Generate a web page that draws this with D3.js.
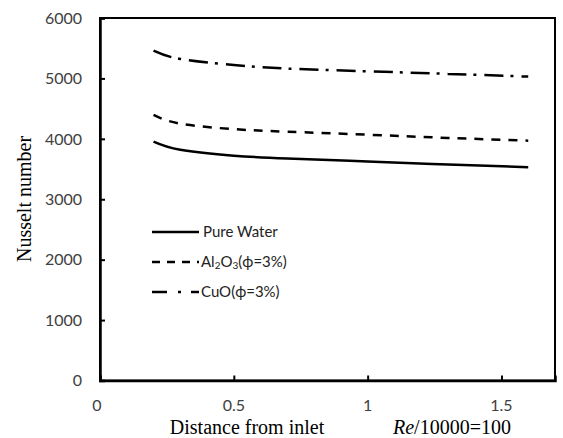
<!DOCTYPE html>
<html>
<head>
<meta charset="utf-8">
<script src="https://cdn.jsdelivr.net/npm/d3@7"></script>
<style>
  body { margin: 0; background: #fff; }
  svg { display: block; }
</style>
</head>
<body>
<div id="chart"></div>
<script>
// distance from inlet and Nusselt number
const distance = [0.2, 0.3, 0.5, 0.7, 1.0, 1.3, 1.6];
const pureWater = [3955, 3820, 3722, 3675, 3625, 3575, 3530];
const al2o3 = [4395, 4252, 4160, 4118, 4068, 4015, 3970];
const cuo = [5460, 5322, 5222, 5162, 5118, 5075, 5030];
const yTicks = [0, 1000, 2000, 3000, 4000, 5000, 6000];
const xTicks = [0, 0.5, 1, 1.5];

const width = 563;
const height = 438;

const svg = d3.select("#chart")
  .append("svg")
  .attr("width", width)
  .attr("height", height);

const x = d3.scaleLinear().domain([0, 1.7]).range([100, 555]);
const y = d3.scaleLinear().domain([0, 6000]).range([380.5, 18]);

const series = [
  { name: "Pure Water", values: pureWater, dash: null, legendDash: null },
  { name: "Al2O3", values: al2o3, dash: "9,8", legendDash: "8,7" },
  { name: "CuO", values: cuo, dash: "19,7,3,8", legendDash: "15,11,3,10" }
];

const line = d3.line()
  .x(d => x(d[0]))
  .y(d => y(d[1]))
  .curve(d3.curveNatural);

// plot frame
svg.append("rect")
  .attr("x", x(0))
  .attr("y", y(6000))
  .attr("width", x(1.7) - x(0))
  .attr("height", y(0) - y(6000))
  .attr("fill", "none")
  .attr("stroke", "#000")
  .attr("stroke-width", 2);

// y axis
const yAxis = svg.append("g")
  .attr("transform", `translate(${x(0)},0)`)
  .call(d3.axisRight(y).tickValues(yTicks).tickSize(5).tickFormat(""));
yAxis.select(".domain").attr("stroke-width", 2.5);
yAxis.selectAll(".tick line").attr("stroke-width", 2);

svg.append("g").selectAll("text")
  .data(yTicks)
  .enter()
  .append("text")
  .attr("x", 82)
  .attr("y", d => y(d))
  .attr("dy", "0.36em")
  .attr("text-anchor", "end")
  .style("font-family", "Lato, 'Open Sans', sans-serif")
  .style("font-size", "16px")
  .style("fill", "#404040")
  .text(d => d);

// x axis
const xAxis = svg.append("g")
  .attr("transform", `translate(0,${y(0)})`)
  .call(d3.axisTop(x).tickValues(xTicks).tickSize(5).tickFormat(""));
xAxis.select(".domain").attr("stroke-width", 2.5);
xAxis.selectAll(".tick line").attr("stroke-width", 2);

svg.append("g").selectAll("text")
  .data(xTicks)
  .enter()
  .append("text")
  .attr("x", d => x(d) - (d === 0 ? 3 : 0))
  .attr("y", 411)
  .attr("text-anchor", "middle")
  .style("font-family", "Lato, 'Open Sans', sans-serif")
  .style("font-size", "16px")
  .style("fill", "#404040")
  .text(d => d);

// curves
series.forEach(s => {
  svg.append("path")
    .datum(distance.map((d, i) => [d, s.values[i]]))
    .attr("d", line)
    .attr("fill", "none")
    .attr("stroke", "#000")
    .attr("stroke-width", 2.5)
    .attr("stroke-dasharray", s.dash);
});

// legend
const legendY = [232, 262, 292];
series.forEach((s, i) => {
  svg.append("line")
    .attr("x1", 152)
    .attr("x2", 199)
    .attr("y1", legendY[i])
    .attr("y2", legendY[i])
    .attr("stroke", "#000")
    .attr("stroke-width", 2.5)
    .attr("stroke-dasharray", s.legendDash);
});

const legendText = svg.append("g")
  .style("font-family", "Lato, 'Open Sans', sans-serif")
  .style("font-size", "15px")
  .style("fill", "#222");

legendText.append("text")
  .attr("x", 203)
  .attr("y", legendY[0] + 5)
  .text("Pure Water");

const alLabel = legendText.append("text")
  .attr("x", 201)
  .attr("y", legendY[1] + 5);
alLabel.append("tspan").text("Al");
alLabel.append("tspan").attr("dy", 2).style("font-size", "10px").text("2");
alLabel.append("tspan").attr("dy", -2).text("O");
alLabel.append("tspan").attr("dy", 2).style("font-size", "10px").text("3");
alLabel.append("tspan").attr("dy", -2).text("(\u03d5=3%)");

legendText.append("text")
  .attr("x", 201)
  .attr("y", legendY[2] + 5)
  .text("CuO(\u03d5=3%)");

// axis titles
svg.append("text")
  .attr("transform", "translate(31,199) rotate(-90)")
  .attr("text-anchor", "middle")
  .style("font-family", "'Liberation Serif', 'Times New Roman', serif")
  .style("font-size", "20px")
  .text("Nusselt number");

svg.append("text")
  .attr("x", 247)
  .attr("y", 434)
  .attr("text-anchor", "middle")
  .style("font-family", "'Liberation Serif', 'Times New Roman', serif")
  .style("font-size", "20px")
  .text("Distance from inlet");

const reLabel = svg.append("text")
  .attr("x", 393)
  .attr("y", 434)
  .style("font-family", "'Liberation Serif', 'Times New Roman', serif")
  .style("font-size", "20px");
reLabel.append("tspan").style("font-style", "italic").text("Re");
reLabel.append("tspan").text("/10000=100");
</script>
</body>
</html>
